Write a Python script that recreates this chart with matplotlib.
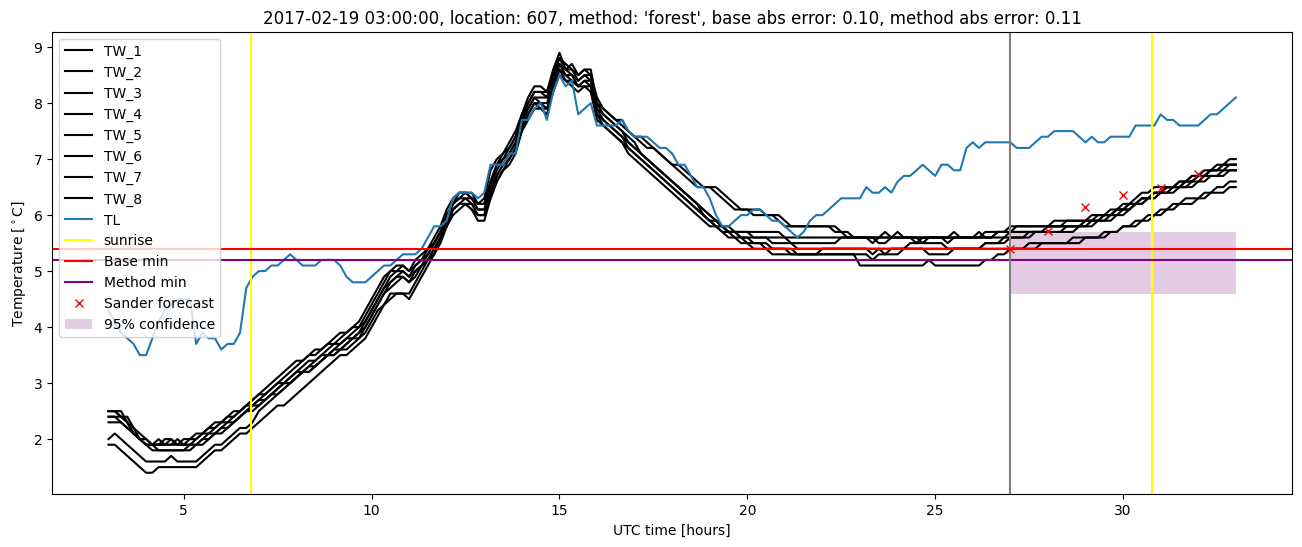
"""
plot.py
-------
Forecast plot for a single night at one location: the eight TW sensor series,
the TL series, sunrise markers, base / method minimum, Sander forecast points
and the 95% confidence band.
"""

import matplotlib
matplotlib.use("Agg")
import matplotlib.pyplot as plt
import numpy as np

# -- Data (10-minute samples, starting 03:00 UTC) ------------------------------
start_hour = 3.0
step_hours = 1.0 / 6.0

tw_1 = [
    2.5, 2.5, 2.4, 2.3, 2.1, 2.0, 2.0, 1.9, 2.0, 1.9, 2.0, 1.9,
    1.9, 2.0, 2.0, 2.1, 2.2, 2.2, 2.3, 2.4, 2.4, 2.5, 2.6, 2.7,
    2.8, 2.9, 3.0, 3.1, 3.2, 3.3, 3.4, 3.4, 3.5, 3.6, 3.6, 3.7,
    3.8, 3.9, 3.9, 4.0, 4.1, 4.3, 4.5, 4.7, 4.9, 5.0, 5.1, 5.1,
    5.0, 5.2, 5.3, 5.4, 5.6, 5.8, 6.1, 6.3, 6.4, 6.4, 6.4, 6.2,
    6.3, 6.8, 7.0, 7.1, 7.3, 7.5, 7.8, 8.1, 8.3, 8.3, 8.2, 8.6,
    8.9, 8.6, 8.7, 8.5, 8.6, 8.6, 8.0, 7.9, 7.8, 7.7, 7.7, 7.5,
    7.4, 7.3, 7.2, 7.2, 7.1, 7.0, 6.9, 6.8, 6.7, 6.6, 6.5, 6.5,
    6.5, 6.4, 6.3, 6.2, 6.1, 6.1, 6.1, 6.0, 6.0, 6.0, 6.0, 5.9,
    5.8, 5.8, 5.8, 5.8, 5.8, 5.8, 5.8, 5.8, 5.8, 5.7, 5.7, 5.6,
    5.6, 5.6, 5.6, 5.6, 5.6, 5.6, 5.7, 5.6, 5.6, 5.6, 5.6, 5.6,
    5.6, 5.6, 5.6, 5.7, 5.6, 5.6, 5.6, 5.6, 5.7, 5.7, 5.7, 5.7,
    5.8, 5.8, 5.8, 5.8, 5.8, 5.8, 5.8, 5.9, 5.9, 5.9, 5.9, 5.9,
    5.9, 5.9, 6.0, 6.0, 6.0, 6.1, 6.1, 6.1, 6.2, 6.3, 6.3, 6.4,
    6.4, 6.5, 6.5, 6.6, 6.6, 6.7, 6.7, 6.8, 6.8, 6.9, 6.9, 7.0,
    7.0,
]
tw_2 = [
    2.5, 2.5, 2.5, 2.3, 2.2, 2.0, 1.9, 1.9, 1.9, 2.0, 2.0, 1.9,
    2.0, 2.0, 2.1, 2.1, 2.2, 2.3, 2.3, 2.4, 2.5, 2.5, 2.6, 2.7,
    2.8, 2.8, 2.9, 3.0, 3.1, 3.2, 3.3, 3.4, 3.5, 3.5, 3.6, 3.7,
    3.7, 3.8, 3.9, 4.0, 4.0, 4.2, 4.4, 4.6, 4.8, 5.0, 5.0, 5.1,
    5.0, 5.1, 5.2, 5.4, 5.5, 5.7, 6.0, 6.2, 6.4, 6.4, 6.3, 6.2,
    6.2, 6.6, 6.9, 7.1, 7.2, 7.4, 7.8, 8.0, 8.2, 8.2, 8.2, 8.5,
    8.8, 8.7, 8.6, 8.5, 8.6, 8.5, 8.1, 7.9, 7.8, 7.7, 7.6, 7.5,
    7.4, 7.4, 7.3, 7.2, 7.1, 7.0, 6.9, 6.9, 6.8, 6.7, 6.6, 6.5,
    6.5, 6.5, 6.4, 6.3, 6.2, 6.1, 6.1, 6.1, 6.1, 6.0, 6.0, 6.0,
    5.9, 5.8, 5.8, 5.8, 5.8, 5.8, 5.8, 5.8, 5.7, 5.7, 5.6, 5.6,
    5.6, 5.6, 5.6, 5.6, 5.7, 5.6, 5.6, 5.6, 5.6, 5.6, 5.6, 5.6,
    5.6, 5.6, 5.6, 5.6, 5.6, 5.6, 5.6, 5.7, 5.6, 5.6, 5.7, 5.7,
    5.7, 5.8, 5.8, 5.8, 5.8, 5.8, 5.8, 5.8, 5.8, 5.9, 5.9, 5.9,
    5.9, 6.0, 6.0, 6.0, 6.1, 6.1, 6.1, 6.2, 6.2, 6.3, 6.3, 6.4,
    6.4, 6.5, 6.5, 6.5, 6.6, 6.6, 6.7, 6.7, 6.8, 6.8, 6.9, 6.9,
    6.9,
]
tw_3 = [
    2.5, 2.5, 2.4, 2.4, 2.2, 2.1, 2.0, 1.9, 1.9, 1.9, 1.9, 2.0,
    1.9, 1.9, 2.0, 2.1, 2.1, 2.2, 2.3, 2.3, 2.4, 2.5, 2.6, 2.6,
    2.7, 2.8, 2.9, 3.0, 3.0, 3.1, 3.2, 3.3, 3.4, 3.4, 3.5, 3.6,
    3.7, 3.7, 3.8, 3.9, 4.0, 4.1, 4.3, 4.5, 4.7, 4.9, 5.0, 5.0,
    4.9, 5.1, 5.2, 5.3, 5.5, 5.7, 6.0, 6.2, 6.3, 6.4, 6.3, 6.2,
    6.2, 6.6, 6.9, 7.0, 7.2, 7.4, 7.7, 8.0, 8.2, 8.2, 8.1, 8.5,
    8.8, 8.6, 8.6, 8.4, 8.5, 8.5, 8.0, 7.8, 7.7, 7.6, 7.5, 7.4,
    7.3, 7.1, 7.0, 6.9, 6.8, 6.7, 6.6, 6.5, 6.4, 6.3, 6.2, 6.1,
    6.0, 5.9, 5.8, 5.8, 5.7, 5.7, 5.7, 5.7, 5.7, 5.7, 5.7, 5.7,
    5.6, 5.6, 5.6, 5.6, 5.6, 5.6, 5.6, 5.6, 5.6, 5.6, 5.6, 5.6,
    5.6, 5.6, 5.5, 5.6, 5.6, 5.6, 5.6, 5.6, 5.6, 5.6, 5.5, 5.6,
    5.6, 5.6, 5.6, 5.6, 5.6, 5.6, 5.6, 5.6, 5.6, 5.6, 5.7, 5.7,
    5.7, 5.7, 5.7, 5.7, 5.7, 5.7, 5.8, 5.8, 5.8, 5.8, 5.8, 5.8,
    5.9, 5.9, 5.9, 6.0, 6.0, 6.1, 6.1, 6.2, 6.2, 6.3, 6.3, 6.4,
    6.4, 6.5, 6.5, 6.5, 6.6, 6.6, 6.7, 6.7, 6.8, 6.8, 6.8, 6.9,
    6.9,
]
tw_4 = [
    2.4, 2.4, 2.4, 2.3, 2.1, 2.0, 1.9, 1.9, 1.9, 1.9, 1.9, 1.9,
    1.9, 1.9, 1.9, 2.0, 2.1, 2.1, 2.2, 2.3, 2.3, 2.4, 2.5, 2.6,
    2.7, 2.7, 2.8, 2.9, 3.0, 3.1, 3.2, 3.2, 3.3, 3.4, 3.5, 3.5,
    3.6, 3.7, 3.8, 3.8, 3.9, 4.1, 4.3, 4.5, 4.7, 4.8, 4.9, 5.0,
    4.9, 5.0, 5.1, 5.3, 5.5, 5.7, 5.9, 6.2, 6.3, 6.3, 6.3, 6.1,
    6.1, 6.5, 6.8, 7.0, 7.1, 7.3, 7.7, 7.9, 8.1, 8.1, 8.1, 8.4,
    8.7, 8.6, 8.5, 8.4, 8.5, 8.4, 7.9, 7.8, 7.7, 7.6, 7.5, 7.3,
    7.2, 7.1, 7.0, 6.9, 6.8, 6.7, 6.6, 6.5, 6.4, 6.3, 6.2, 6.0,
    5.9, 5.9, 5.8, 5.7, 5.7, 5.7, 5.7, 5.6, 5.6, 5.6, 5.6, 5.6,
    5.6, 5.5, 5.5, 5.5, 5.5, 5.5, 5.5, 5.5, 5.5, 5.6, 5.6, 5.6,
    5.6, 5.6, 5.6, 5.5, 5.5, 5.6, 5.6, 5.6, 5.6, 5.5, 5.6, 5.6,
    5.6, 5.6, 5.5, 5.6, 5.6, 5.6, 5.6, 5.6, 5.6, 5.6, 5.6, 5.6,
    5.7, 5.7, 5.7, 5.7, 5.7, 5.7, 5.7, 5.7, 5.7, 5.8, 5.8, 5.8,
    5.8, 5.9, 5.9, 5.9, 6.0, 6.0, 6.1, 6.1, 6.2, 6.2, 6.3, 6.3,
    6.4, 6.4, 6.5, 6.5, 6.5, 6.6, 6.6, 6.7, 6.7, 6.7, 6.8, 6.8,
    6.8,
]
tw_5 = [
    2.4, 2.4, 2.3, 2.2, 2.1, 2.0, 1.9, 1.8, 1.8, 1.8, 1.8, 1.8,
    1.8, 1.9, 1.9, 2.0, 2.0, 2.1, 2.2, 2.2, 2.3, 2.4, 2.5, 2.6,
    2.6, 2.7, 2.8, 2.9, 3.0, 3.0, 3.1, 3.2, 3.3, 3.3, 3.4, 3.5,
    3.6, 3.6, 3.7, 3.8, 3.9, 4.0, 4.2, 4.4, 4.6, 4.8, 4.9, 4.9,
    4.8, 5.0, 5.1, 5.2, 5.4, 5.6, 5.9, 6.1, 6.2, 6.3, 6.2, 6.1,
    6.1, 6.4, 6.7, 6.9, 7.1, 7.3, 7.6, 7.9, 8.1, 8.0, 8.0, 8.3,
    8.7, 8.5, 8.5, 8.3, 8.4, 8.4, 7.9, 7.7, 7.6, 7.5, 7.4, 7.3,
    7.2, 7.1, 7.0, 6.9, 6.8, 6.7, 6.6, 6.5, 6.4, 6.3, 6.2, 6.1,
    6.0, 5.9, 5.8, 5.7, 5.7, 5.6, 5.6, 5.6, 5.6, 5.6, 5.5, 5.5,
    5.5, 5.5, 5.4, 5.4, 5.4, 5.4, 5.4, 5.4, 5.4, 5.4, 5.4, 5.4,
    5.4, 5.4, 5.4, 5.4, 5.4, 5.4, 5.4, 5.4, 5.4, 5.4, 5.4, 5.4,
    5.4, 5.4, 5.4, 5.4, 5.4, 5.4, 5.4, 5.4, 5.5, 5.5, 5.5, 5.5,
    5.6, 5.6, 5.6, 5.6, 5.7, 5.7, 5.7, 5.7, 5.7, 5.7, 5.7, 5.8,
    5.8, 5.8, 5.9, 5.9, 5.9, 6.0, 6.0, 6.1, 6.2, 6.2, 6.3, 6.3,
    6.4, 6.4, 6.4, 6.5, 6.5, 6.5, 6.6, 6.6, 6.7, 6.7, 6.7, 6.8,
    6.8,
]
tw_6 = [
    2.3, 2.3, 2.3, 2.2, 2.1, 2.0, 1.9, 1.9, 1.8, 1.8, 1.8, 1.8,
    1.8, 1.8, 1.9, 1.9, 2.0, 2.1, 2.1, 2.2, 2.3, 2.4, 2.5, 2.5,
    2.6, 2.7, 2.8, 2.8, 2.9, 3.0, 3.1, 3.2, 3.2, 3.3, 3.4, 3.5,
    3.5, 3.6, 3.7, 3.8, 3.8, 4.0, 4.2, 4.4, 4.6, 4.7, 4.8, 4.9,
    4.8, 4.9, 5.1, 5.2, 5.4, 5.6, 5.8, 6.1, 6.2, 6.2, 6.2, 6.0,
    6.0, 6.4, 6.7, 6.9, 7.0, 7.2, 7.6, 7.8, 8.0, 8.0, 7.9, 8.3,
    8.6, 8.5, 8.4, 8.3, 8.4, 8.3, 7.8, 7.7, 7.6, 7.5, 7.4, 7.2,
    7.1, 7.0, 6.9, 6.8, 6.7, 6.6, 6.5, 6.4, 6.3, 6.2, 6.1, 6.0,
    5.9, 5.8, 5.8, 5.7, 5.7, 5.6, 5.6, 5.5, 5.5, 5.5, 5.4, 5.4,
    5.4, 5.3, 5.3, 5.3, 5.3, 5.3, 5.3, 5.3, 5.3, 5.3, 5.3, 5.3,
    5.3, 5.3, 5.2, 5.3, 5.3, 5.3, 5.3, 5.4, 5.4, 5.4, 5.4, 5.3,
    5.3, 5.3, 5.3, 5.4, 5.4, 5.4, 5.4, 5.4, 5.5, 5.5, 5.5, 5.6,
    5.6, 5.6, 5.6, 5.7, 5.7, 5.7, 5.8, 5.8, 5.8, 5.8, 5.8, 5.8,
    5.9, 5.9, 5.9, 6.0, 6.0, 6.1, 6.2, 6.2, 6.3, 6.4, 6.4, 6.5,
    6.5, 6.5, 6.5, 6.6, 6.6, 6.7, 6.7, 6.7, 6.8, 6.8, 6.9, 6.9,
    6.9,
]
tw_7 = [
    2.0, 2.1, 2.0, 1.9, 1.8, 1.7, 1.6, 1.6, 1.6, 1.6, 1.7, 1.6,
    1.6, 1.6, 1.6, 1.7, 1.8, 1.9, 1.9, 2.0, 2.1, 2.2, 2.2, 2.3,
    2.5, 2.6, 2.7, 2.8, 2.9, 3.0, 3.1, 3.2, 3.2, 3.3, 3.4, 3.5,
    3.5, 3.6, 3.6, 3.7, 3.8, 3.9, 4.1, 4.3, 4.4, 4.6, 4.6, 4.6,
    4.6, 4.8, 5.0, 5.2, 5.3, 5.6, 5.8, 6.1, 6.2, 6.2, 6.1, 6.0,
    6.0, 6.3, 6.6, 6.8, 7.0, 7.2, 7.5, 7.8, 8.0, 7.9, 7.9, 8.2,
    8.6, 8.4, 8.4, 8.3, 8.3, 8.3, 7.8, 7.6, 7.5, 7.4, 7.3, 7.2,
    7.1, 7.0, 6.9, 6.8, 6.7, 6.6, 6.5, 6.4, 6.3, 6.2, 6.1, 6.0,
    5.9, 5.8, 5.7, 5.7, 5.6, 5.6, 5.5, 5.5, 5.5, 5.4, 5.4, 5.4,
    5.4, 5.4, 5.3, 5.3, 5.3, 5.3, 5.4, 5.4, 5.4, 5.4, 5.4, 5.4,
    5.4, 5.4, 5.3, 5.4, 5.3, 5.4, 5.4, 5.4, 5.5, 5.5, 5.5, 5.5,
    5.5, 5.5, 5.4, 5.4, 5.4, 5.4, 5.4, 5.4, 5.4, 5.4, 5.4, 5.4,
    5.4, 5.4, 5.4, 5.5, 5.5, 5.5, 5.5, 5.5, 5.5, 5.5, 5.6, 5.6,
    5.6, 5.6, 5.6, 5.7, 5.7, 5.7, 5.8, 5.8, 5.9, 5.9, 6.0, 6.0,
    6.1, 6.1, 6.2, 6.2, 6.3, 6.3, 6.3, 6.4, 6.4, 6.5, 6.5, 6.6,
    6.6,
]
tw_8 = [
    1.9, 1.9, 1.8, 1.7, 1.6, 1.5, 1.4, 1.4, 1.5, 1.5, 1.5, 1.5,
    1.5, 1.5, 1.5, 1.6, 1.7, 1.8, 1.8, 1.9, 2.0, 2.1, 2.1, 2.2,
    2.3, 2.4, 2.5, 2.6, 2.6, 2.7, 2.8, 2.9, 3.0, 3.1, 3.2, 3.3,
    3.4, 3.5, 3.5, 3.6, 3.7, 3.8, 4.0, 4.2, 4.4, 4.5, 4.6, 4.6,
    4.5, 4.7, 4.9, 5.1, 5.3, 5.5, 5.8, 6.0, 6.1, 6.2, 6.1, 5.9,
    5.9, 6.3, 6.6, 6.8, 6.9, 7.1, 7.5, 7.7, 7.9, 7.9, 7.8, 8.2,
    8.5, 8.4, 8.3, 8.2, 8.3, 8.2, 7.7, 7.6, 7.5, 7.4, 7.3, 7.1,
    7.0, 6.9, 6.8, 6.7, 6.6, 6.5, 6.4, 6.3, 6.2, 6.1, 6.0, 5.9,
    5.8, 5.8, 5.7, 5.6, 5.6, 5.5, 5.5, 5.4, 5.4, 5.4, 5.3, 5.3,
    5.3, 5.3, 5.3, 5.3, 5.3, 5.3, 5.3, 5.3, 5.3, 5.3, 5.3, 5.3,
    5.1, 5.1, 5.1, 5.1, 5.1, 5.1, 5.1, 5.1, 5.1, 5.1, 5.1, 5.2,
    5.1, 5.1, 5.1, 5.1, 5.1, 5.1, 5.1, 5.1, 5.2, 5.2, 5.3, 5.3,
    5.4, 5.4, 5.4, 5.4, 5.4, 5.5, 5.5, 5.5, 5.5, 5.5, 5.5, 5.5,
    5.6, 5.6, 5.6, 5.6, 5.7, 5.7, 5.8, 5.8, 5.8, 5.9, 5.9, 6.0,
    6.0, 6.1, 6.1, 6.2, 6.2, 6.2, 6.3, 6.3, 6.4, 6.4, 6.4, 6.5,
    6.5,
]
tl = [
    4.3, 4.1, 3.9, 3.8, 3.7, 3.5, 3.5, 3.8, 4.1, 4.3, 4.4, 4.5,
    4.5, 4.5, 3.7, 3.9, 3.8, 3.8, 3.6, 3.7, 3.7, 3.9, 4.7, 4.9,
    5.0, 5.0, 5.1, 5.1, 5.2, 5.3, 5.2, 5.1, 5.1, 5.1, 5.2, 5.2,
    5.2, 5.1, 4.9, 4.8, 4.8, 4.8, 4.9, 5.0, 5.1, 5.1, 5.2, 5.3,
    5.3, 5.3, 5.4, 5.6, 5.8, 5.8, 5.9, 6.3, 6.4, 6.4, 6.4, 6.3,
    6.4, 6.9, 6.9, 6.9, 7.1, 7.1, 7.7, 7.7, 7.9, 8.0, 7.7, 8.2,
    8.5, 8.3, 8.4, 7.8, 7.9, 8.0, 7.6, 7.6, 7.6, 7.6, 7.7, 7.5,
    7.4, 7.4, 7.4, 7.3, 7.2, 7.2, 7.1, 6.9, 6.9, 6.7, 6.5, 6.5,
    6.3, 6.0, 5.8, 5.8, 5.9, 6.0, 6.0, 6.1, 6.1, 6.0, 5.9, 5.9,
    5.8, 5.7, 5.6, 5.7, 5.9, 6.0, 6.0, 6.1, 6.2, 6.3, 6.3, 6.3,
    6.3, 6.5, 6.4, 6.4, 6.5, 6.4, 6.6, 6.7, 6.7, 6.8, 6.9, 6.8,
    6.7, 6.9, 6.9, 6.8, 6.8, 7.2, 7.3, 7.2, 7.3, 7.3, 7.3, 7.3,
    7.3, 7.2, 7.2, 7.2, 7.3, 7.4, 7.4, 7.5, 7.5, 7.5, 7.5, 7.4,
    7.3, 7.4, 7.3, 7.3, 7.4, 7.4, 7.4, 7.4, 7.6, 7.6, 7.6, 7.6,
    7.8, 7.7, 7.7, 7.6, 7.6, 7.6, 7.6, 7.7, 7.8, 7.8, 7.9, 8.0,
    8.1,
]

sunrise_hours = [6.78, 30.78]
forecast_start = 27.0
base_min = 5.4
method_min = 5.2

forecast_hours = [27, 28, 29, 30, 31, 32]
forecast_values = [5.40, 5.71, 6.14, 6.36, 6.48, 6.73]

conf_hours = [27.0, 33.0]
conf_low = 4.6
conf_high = 5.7

title = ("2017-02-19 03:00:00, location: 607, method: 'forest', "
         "base abs error: 0.10, method abs error: 0.11")


def _hours(series):
    """Time axis (UTC hours) for a 10-minute series."""
    return start_hour + np.arange(len(series)) * step_hours


def main():
    fig, ax = plt.subplots(figsize=(16, 6))

    # -- Sensor series ---------------------------------------------------------
    tw_series = [tw_1, tw_2, tw_3, tw_4, tw_5, tw_6, tw_7, tw_8]
    for k, tw in enumerate(tw_series, start=1):
        ax.plot(_hours(tw), tw, color="black", label=f"TW_{k}")
    ax.plot(_hours(tl), tl, color="C0", label="TL")

    # -- Reference lines -------------------------------------------------------
    for j, h in enumerate(sunrise_hours):
        ax.axvline(h, color="yellow", label="sunrise" if j == 0 else None)
    ax.axhline(base_min, color="red", label="Base min")
    ax.axhline(method_min, color="purple", label="Method min")
    ax.axvline(forecast_start, color="gray")

    # -- Forecast --------------------------------------------------------------
    ax.plot(forecast_hours, forecast_values, "x", color="red",
            label="Sander forecast")
    ax.fill_between(conf_hours, conf_low, conf_high, color="purple",
                    alpha=0.2, linewidth=0, label="95% confidence")

    ax.set_title(title)
    ax.set_xlabel("UTC time [hours]")
    ax.set_ylabel(r"Temperature [$^\circ$C]")
    ax.legend(loc="upper left")

    fig.savefig("out.png", dpi=100, bbox_inches="tight")


if __name__ == "__main__":
    main()
